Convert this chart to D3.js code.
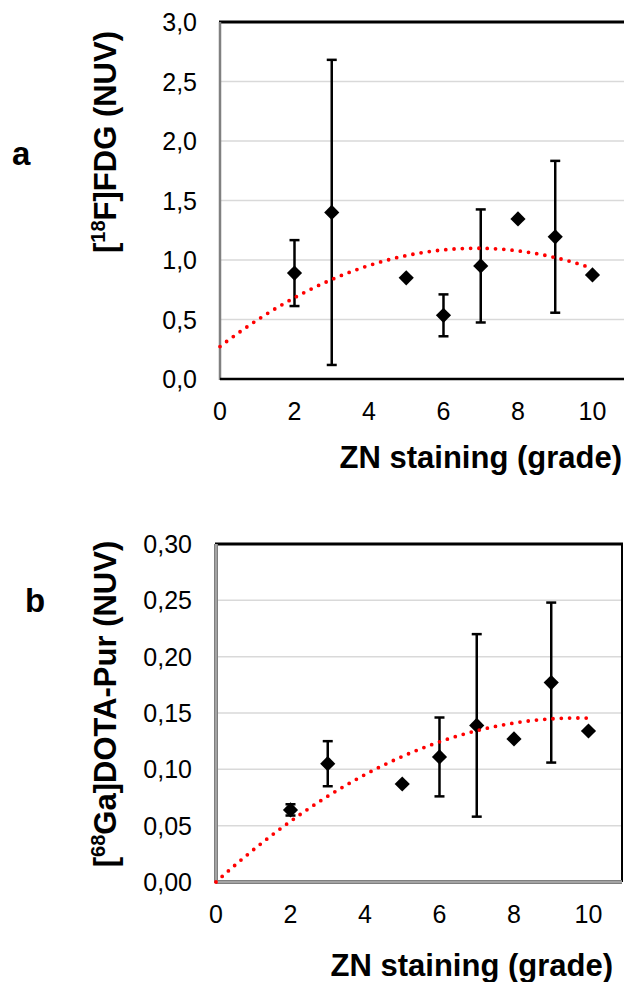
<!DOCTYPE html>
<html>
<head>
<meta charset="utf-8">
<script src="https://cdn.jsdelivr.net/npm/d3@7"></script>
<style>
  html, body { margin: 0; padding: 0; background: #fff; }
  svg { display: block; font-family: "Liberation Sans", Arial, sans-serif; }
</style>
</head>
<body>
<div id="chart"></div>
<script>
// values (grade 0 point is hidden on the axis corner)
const grades = [0, 2, 3, 5, 6, 7, 8, 9, 10];
const fdgMean = [0, 0.89, 1.40, 0.85, 0.535, 0.95, 1.345, 1.195, 0.875];
const fdgSd = [null, 0.277, 1.282, null, 0.176, 0.475, null, 0.638, null];
const puroMean = [0, 0.064, 0.105, 0.087, 0.111, 0.139, 0.127, 0.177, 0.134];
const puroSd = [null, 0.005, 0.020, null, 0.035, 0.081, null, 0.071, null];

const xTicks = [0, 2, 4, 6, 8, 10];
const fdgTicks = [0, 0.5, 1, 1.5, 2, 2.5, 3];
const puroTicks = [0, 0.05, 0.1, 0.15, 0.2, 0.25, 0.3];

const width = 624, height = 982;

// comma decimal separator like the original
const locale = d3.formatLocale({ decimal: ",", thousands: ".", grouping: [3], currency: ["", ""] });

const svg = d3.select("#chart")
    .append("svg")
    .attr("width", width)
    .attr("height", height);

// least squares polynomial fit over the given powers of x
function polyFit(xs, ys, powers) {
    const n = powers.length;
    const A = powers.map(p => powers.map(q => d3.sum(xs, x => Math.pow(x, p + q))));
    const b = powers.map(p => d3.sum(xs, (x, i) => Math.pow(x, p) * ys[i]));
    for (let i = 0; i < n; i++) {
        for (let j = i + 1; j < n; j++) {
            const f = A[j][i] / A[i][i];
            for (let k = i; k < n; k++) A[j][k] -= f * A[i][k];
            b[j] -= f * b[i];
        }
    }
    const c = new Array(n).fill(0);
    for (let i = n - 1; i >= 0; i--) {
        let s = b[i];
        for (let k = i + 1; k < n; k++) s -= A[i][k] * c[k];
        c[i] = s / A[i][i];
    }
    return x => d3.sum(powers, (p, i) => c[i] * Math.pow(x, p));
}

function drawPanel(o) {
    const x = d3.scaleLinear().domain([0, 10.9]).range([o.left, o.right]);
    const y = d3.scaleLinear().domain([0, o.yMax]).range([o.bottom, o.top]);
    const g = svg.append("g");

    // gridlines
    g.selectAll("line.grid")
        .data(o.yTicks.slice(1, -1))
        .enter().append("line")
        .attr("x1", o.left).attr("x2", o.right)
        .attr("y1", d => y(d)).attr("y2", d => y(d))
        .attr("stroke", "#d9d9d9")
        .attr("stroke-width", 1.5);

    // frame
    g.append("line")
        .attr("x1", o.left - 1).attr("x2", o.right + 1)
        .attr("y1", o.top).attr("y2", o.top)
        .attr("stroke", "#000").attr("stroke-width", 3);
    g.append("line")
        .attr("x1", o.right).attr("x2", o.right)
        .attr("y1", o.top).attr("y2", o.bottom)
        .attr("stroke", "#000").attr("stroke-width", 2);
    o.axisStyle.forEach(s => {
        g.append("line")
            .attr("x1", o.left).attr("x2", o.left)
            .attr("y1", o.top).attr("y2", o.bottom + 1)
            .attr("stroke", s.left).attr("stroke-width", s.w);
        g.append("line")
            .attr("x1", o.left).attr("x2", o.right)
            .attr("y1", o.bottom).attr("y2", o.bottom)
            .attr("stroke", s.bottom).attr("stroke-width", s.w);
    });

    // tick labels
    g.selectAll("text.ytick")
        .data(o.yTicks)
        .enter().append("text")
        .attr("x", o.yLabelX)
        .attr("y", d => y(d))
        .attr("dy", "0.36em")
        .attr("text-anchor", "end")
        .attr("font-size", 25)
        .attr("fill", "#000")
        .text(d => locale.format(o.yFormat)(d));
    g.selectAll("text.xtick")
        .data(xTicks)
        .enter().append("text")
        .attr("x", d => x(d))
        .attr("y", o.bottom + 41)
        .attr("text-anchor", "middle")
        .attr("font-size", 25)
        .attr("fill", "#000")
        .text(d => d);

    // titles
    g.append("text")
        .attr("x", o.xTitleRight)
        .attr("y", o.xTitleY)
        .attr("text-anchor", "end")
        .attr("font-size", 31)
        .attr("font-weight", "bold")
        .text("ZN staining (grade)");

    const yt = g.append("text")
        .attr("transform", `translate(${o.yTitleX},${o.yTitleY}) rotate(-90)`)
        .attr("text-anchor", "middle")
        .attr("font-size", 31)
        .attr("font-weight", "bold");
    yt.append("tspan").text("[");
    yt.append("tspan").attr("font-size", 20).attr("dy", -11).text(o.yTitle[0]);
    yt.append("tspan").attr("dy", 11).text(o.yTitle[1]);

    g.append("text")
        .attr("x", o.letterX)
        .attr("y", o.letterY)
        .attr("font-size", 33)
        .attr("font-weight", "bold")
        .text(o.letter);

    // error bars
    const points = grades.map((gr, i) => ({ x: gr, m: o.means[i], sd: o.sd[i] }));
    const withErr = points.filter(d => d.sd != null);
    g.selectAll("line.err")
        .data(withErr)
        .enter().append("line")
        .attr("x1", d => x(d.x)).attr("x2", d => x(d.x))
        .attr("y1", d => y(d.m - d.sd)).attr("y2", d => y(d.m + d.sd))
        .attr("stroke", "#000").attr("stroke-width", 2.5);
    [-1, 1].forEach(sign => {
        g.selectAll(null)
            .data(withErr)
            .enter().append("line")
            .attr("x1", d => x(d.x) - 5).attr("x2", d => x(d.x) + 5)
            .attr("y1", d => y(d.m + sign * d.sd)).attr("y2", d => y(d.m + sign * d.sd))
            .attr("stroke", "#000").attr("stroke-width", 2.5);
    });

    // diamond markers
    const diamond = d3.symbol(d3.symbolSquare, 115);
    g.selectAll("path.pt")
        .data(points.filter(d => d.x > 0))
        .enter().append("path")
        .attr("d", diamond)
        .attr("transform", d => `translate(${x(d.x)},${y(d.m)}) rotate(45)`)
        .attr("fill", "#000");

    // polynomial trendline (order 2), dotted red
    const fit = polyFit(grades, o.means, o.powers);
    const line = d3.line().x(d => x(d)).y(d => y(fit(d)));
    g.append("path")
        .attr("d", line(d3.range(0, 10.001, 0.05)))
        .attr("fill", "none")
        .attr("stroke", "#ff0000")
        .attr("stroke-width", 3.8)
        .attr("stroke-linecap", "round")
        .attr("stroke-dasharray", "0 8.3");
}

drawPanel({
    left: 220, right: 626, top: 22, bottom: 379,
    yMax: 3, yTicks: fdgTicks, yFormat: ".1f", yLabelX: 197,
    means: fdgMean, sd: fdgSd, powers: [0, 1, 2],
    axisStyle: [{ left: "#808080", bottom: "#000", w: 2.5 }],
    xTitleRight: 622, xTitleY: 468,
    yTitle: ["18", "F]FDG (NUV)"], yTitleX: 116, yTitleY: 142,
    letter: "a", letterX: 12, letterY: 165
});

drawPanel({
    left: 216, right: 622, top: 544, bottom: 882,
    yMax: 0.3, yTicks: puroTicks, yFormat: ".2f", yLabelX: 192,
    means: puroMean, sd: puroSd, powers: [1, 2],
    axisStyle: [{ left: "#7f7f7f", bottom: "#7f7f7f", w: 4 }, { left: "#c8c8c8", bottom: "#c8c8c8", w: 1 }],
    xTitleRight: 613, xTitleY: 976,
    yTitle: ["68", "Ga]DOTA-Pur (NUV)"], yTitleX: 116, yTitleY: 704,
    letter: "b", letterX: 25, letterY: 612
});
</script>
</body>
</html>
